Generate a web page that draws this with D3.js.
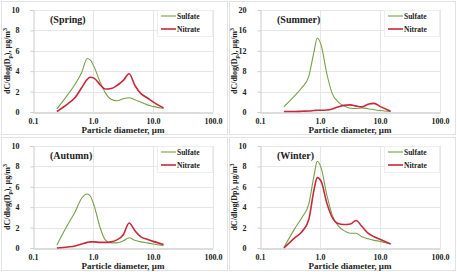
<!DOCTYPE html>
<html>
<head>
<meta charset="utf-8">
<script src="https://cdn.jsdelivr.net/npm/d3@7"></script>
<style>
body { margin: 0; background: #fff; }
svg text { font-family: "Liberation Serif", "Times New Roman", serif; font-weight: bold; fill: #222; }
</style>
</head>
<body>
<svg width="457" height="272"></svg>
<script>
// impactor stage diameters (um)
var diameters = [0.25, 0.38, 0.5, 0.65, 0.8, 0.9, 1.05, 1.3, 1.6, 2.0, 2.5, 3.2, 4.0, 5.0, 6.3, 8.0, 10, 15];
var xTicks = [0.1, 1, 10, 100];

var springSulfate = [0.3, 1.7, 2.7, 3.9, 5.25, 5.1, 4.4, 3.0, 1.9, 1.25, 1.1, 1.3, 1.4, 1.2, 0.95, 0.7, 0.55, 0.35];
var springNitrate = [0.05, 0.8, 1.4, 2.4, 3.2, 3.4, 3.3, 2.7, 2.25, 2.3, 2.6, 3.1, 3.75, 2.6, 1.8, 1.4, 1.0, 0.4];
var summerSulfate = [1.0, 3.2, 4.8, 7.0, 12.0, 14.5, 13.0, 7.5, 3.6, 2.0, 1.2, 0.75, 0.7, 0.8, 0.65, 0.45, 0.3, 0.1];
var summerNitrate = [0.1, 0.1, 0.15, 0.2, 0.3, 0.35, 0.35, 0.4, 0.6, 1.0, 1.3, 1.4, 1.15, 1.0, 1.5, 1.7, 1.1, 0.15];
var autumnSulfate = [0.3, 2.3, 3.5, 4.9, 5.3, 5.1, 4.1, 2.1, 0.8, 0.5, 0.5, 0.7, 1.0, 0.75, 0.6, 0.5, 0.4, 0.25];
var autumnNitrate = [0.0, 0.1, 0.2, 0.4, 0.55, 0.6, 0.6, 0.55, 0.55, 0.6, 0.8, 1.3, 2.45, 1.7, 1.1, 0.85, 0.65, 0.35];
var winterSulfate = [0.05, 1.9, 3.0, 4.3, 7.2, 8.5, 7.8, 5.2, 3.2, 2.2, 1.7, 1.45, 1.45, 1.1, 0.9, 0.75, 0.65, 0.4];
var winterNitrate = [0.0, 1.0, 1.6, 2.8, 5.8, 6.9, 6.5, 4.4, 3.0, 2.4, 2.3, 2.35, 2.7, 2.1, 1.45, 1.1, 0.85, 0.4];

var seasons = ["(Spring)", "(Summer)", "(Autumn)", "(Winter)"];
var yMax = [10, 20, 10, 10];
var yStep = [2, 4, 2, 2];

var green = "#77a04a", red = "#c8283c";

var panels = [
    {x0: 33, y0: 10, sulfate: springSulfate, nitrate: springNitrate, ylab: "p"},
    {x0: 260, y0: 10, sulfate: summerSulfate, nitrate: summerNitrate, ylab: "p"},
    {x0: 33, y0: 146, sulfate: autumnSulfate, nitrate: autumnNitrate, ylab: "p"},
    {x0: 260, y0: 146, sulfate: winterSulfate, nitrate: winterNitrate, ylab: null}
];
var pw = 180, ph = 102;

var svg = d3.select("svg");

// panel frames
[[1, 1], [229, 1], [1, 137], [229, 137]].forEach(function(p) {
    svg.append("rect").attr("x", p[0] + 0.5).attr("y", p[1] + 0.5)
        .attr("width", 226).attr("height", 133)
        .attr("fill", "none").attr("stroke", "#e2e2e2");
});

panels.forEach(function(p, i) {
    var x = d3.scaleLog().domain([0.1, 100]).range([p.x0, p.x0 + pw]);
    var y = d3.scaleLinear().domain([0, yMax[i]]).range([p.y0 + ph, p.y0]);
    var yt = d3.range(0, yMax[i] + 0.01, yStep[i]);
    var g = svg.append("g");

    // gridlines
    g.selectAll(".hg").data(yt.slice(1)).enter().append("line")
        .attr("x1", p.x0).attr("x2", p.x0 + pw)
        .attr("y1", function(d) { return Math.round(y(d)) + 0.5; })
        .attr("y2", function(d) { return Math.round(y(d)) + 0.5; })
        .attr("stroke", "#e6e6e6");
    g.selectAll(".vg").data(xTicks.slice(1)).enter().append("line")
        .attr("x1", function(d) { return Math.round(x(d)) + 0.5; })
        .attr("x2", function(d) { return Math.round(x(d)) + 0.5; })
        .attr("y1", p.y0).attr("y2", p.y0 + ph)
        .attr("stroke", "#e6e6e6");

    // axes
    var xa = g.append("g").attr("transform", "translate(0," + (Math.round(p.y0 + ph) + 0.5) + ")")
        .call(d3.axisBottom(x).tickValues(xTicks).tickSize(0).tickPadding(6)
            .tickFormat(d3.format(".1f")));
    xa.select(".domain").attr("stroke", "#bbb");
    xa.selectAll("text").attr("font-size", 8).attr("font-family", null);

    var ya = g.append("g").attr("transform", "translate(" + (p.x0 + 0.5) + ",0)")
        .call(d3.axisLeft(y).tickValues(yt).tickSize(3).tickPadding(11).tickFormat(d3.format("d")));
    ya.select(".domain").attr("stroke", "#ccc");
    ya.selectAll(".tick line").attr("stroke", "#ccc");
    ya.selectAll("text").attr("font-size", 8).attr("font-family", null);

    // axis titles
    g.append("text").attr("x", p.x0 + pw / 2).attr("y", p.y0 + ph + 21)
        .attr("text-anchor", "middle").attr("font-size", 9).text("Particle diameter, \u00b5m");
    var yl = g.append("text")
        .attr("transform", "translate(" + (p.x0 - 23) + "," + (p.y0 + ph / 2) + ") rotate(-90)")
        .attr("text-anchor", "middle").attr("font-size", 8);
    if (p.ylab) {
        yl.append("tspan").text("dC/dlog(D");
        yl.append("tspan").attr("font-size", 6).attr("dy", 2).text("p");
        yl.append("tspan").attr("dy", -2).text("), \u00b5g/m");
        yl.append("tspan").attr("font-size", 6).attr("dy", -3).text("3");
    } else {
        yl.append("tspan").text("dC/dlog(Dp), \u00b5g/m");
        yl.append("tspan").attr("font-size", 6).attr("dy", -3).text("3");
    }

    // season label
    g.append("text").attr("x", p.x0 + 17).attr("y", p.y0 + 13)
        .attr("font-size", 10).text(seasons[i]);

    // lines
    var line = d3.line()
        .x(function(d, k) { return x(diameters[k]); })
        .y(function(d) { return y(d); })
        .curve(d3.curveMonotoneX);
    g.append("path").datum(p.sulfate).attr("d", line)
        .attr("fill", "none").attr("stroke", green).attr("stroke-width", 1.1);
    g.append("path").datum(p.nitrate).attr("d", line)
        .attr("fill", "none").attr("stroke", red).attr("stroke-width", 1.6);

    // legend
    var lx = p.x0 + pw - 52, ly = p.y0;
    g.append("rect").attr("x", lx - 3.5).attr("y", ly + 0.5).attr("width", 55).attr("height", 26)
        .attr("fill", "#fff").attr("stroke", "#eee");
    [["Sulfate", green, 1.1], ["Nitrate", red, 1.6]].forEach(function(s, k) {
        var yy = ly + 6 + k * 13;
        g.append("line").attr("x1", lx).attr("x2", lx + 15).attr("y1", yy).attr("y2", yy)
            .attr("stroke", s[1]).attr("stroke-width", s[2]);
        g.append("text").attr("x", lx + 16).attr("y", yy + 2.5).attr("font-size", 7.5).text(s[0]);
    });
});
</script>
</body>
</html>
